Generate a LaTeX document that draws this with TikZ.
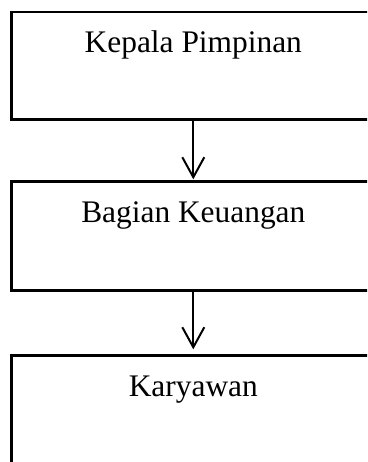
\documentclass[tikz,border=0pt]{standalone}
\usepackage{fontspec}
\setmainfont{Liberation Serif}
\usetikzlibrary{arrows.meta}
\begin{document}
\begin{tikzpicture}[x=1pt,y=-1pt,
  orgbox/.style={draw, line width=2.6pt, rectangle, anchor=north west,
    outer sep=0pt, inner xsep=0pt, inner ysep=0pt, minimum width=364pt,
    text height=41pt, text depth=#1, font=\fontsize{31.4}{36}\selectfont},
  flow/.style={line width=2pt, -{Straight Barb[length=20pt,width=22pt]}}]
\clip (0,0) rectangle (367,462);
\node[orgbox=66.7pt] (kp) at (11.3,12) {Kepala Pimpinan};
\node[orgbox=68.2pt] (bk) at (11.3,181.3) {Bagian Keuangan};
\node[orgbox=67pt] (kw) at (11.3,355.3) {Karyawan};
\draw[flow, shorten >=2pt] (kp.south) -- (bk.north);
\draw[flow, shorten >=6pt] (bk.south) -- (kw.north);
\end{tikzpicture}
\end{document}
